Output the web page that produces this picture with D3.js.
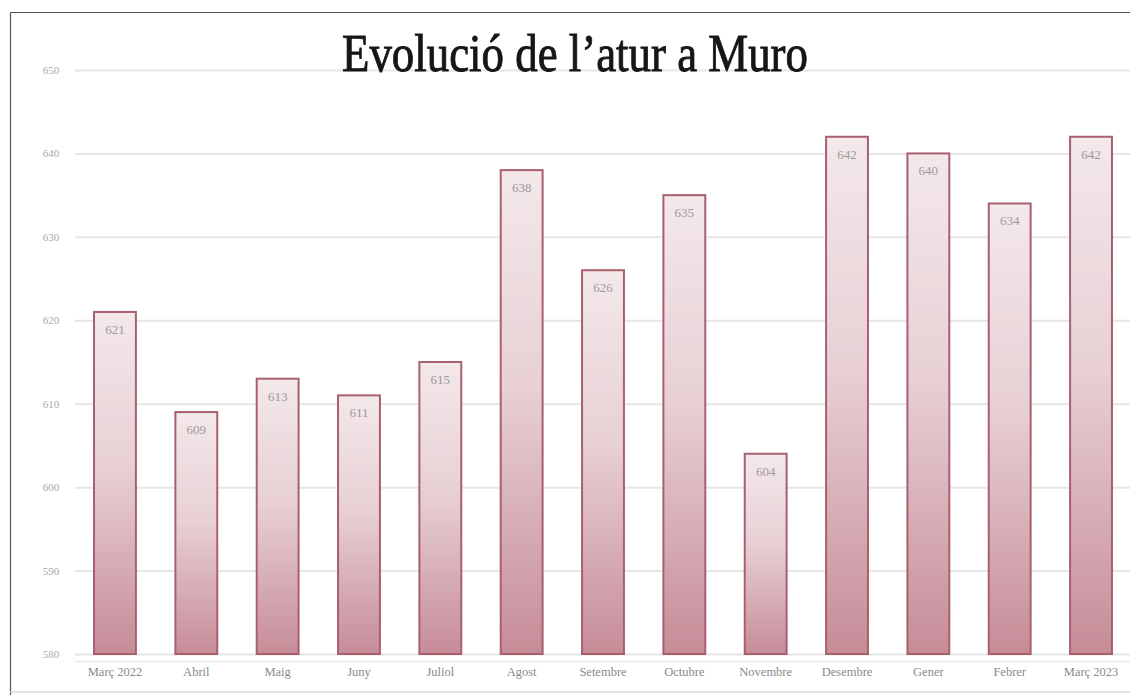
<!DOCTYPE html>
<html><head><meta charset="utf-8">
<script src="https://cdn.jsdelivr.net/npm/d3@7"></script>
<style>body{margin:0;background:#fff}svg{display:block}</style>
</head><body>
<svg id="c" width="1130" height="695"></svg>
<script>
const categories = ["Març 2022","Abril","Maig","Juny","Juliol","Agost","Setembre","Octubre","Novembre","Desembre","Gener","Febrer","Març 2023"];
const values = [621,609,613,611,615,638,626,635,604,642,640,634,642];
const yTicks = [580,590,600,610,620,630,640,650];
const title = "Evolució de l’atur a Muro";

const svg = d3.select("#c");
// frame
svg.append("line").attr("x1",10.5).attr("y1",12.5).attr("x2",1130).attr("y2",12.5).attr("stroke","#555").attr("stroke-width",1.2);
svg.append("line").attr("x1",10.5).attr("y1",12.5).attr("x2",10.5).attr("y2",695).attr("stroke","#555").attr("stroke-width",1.2);
svg.append("line").attr("x1",10.5).attr("y1",692).attr("x2",1130).attr("y2",692).attr("stroke","#e2e2e2").attr("stroke-width",2);

const x = d3.scaleBand().domain(categories).range([74.5,1131.5]).paddingInner(0.485).paddingOuter(0.24);
const y = d3.scaleLinear().domain([580,650]).range([654,70]);

const defs = svg.append("defs");
const g = defs.append("linearGradient").attr("id","bg").attr("x1",0).attr("y1",0).attr("x2",0).attr("y2",1);
g.append("stop").attr("offset","0%").attr("stop-color","#f3e8ea");
g.append("stop").attr("offset","45%").attr("stop-color","#e8d0d5");
g.append("stop").attr("offset","100%").attr("stop-color","#c68c98");

// grid + y axis
const yAxis = d3.axisLeft(y).tickValues(yTicks).tickSize(-1060).tickPadding(20);
const ya = svg.append("g").attr("transform","translate(75,0)").call(yAxis);
ya.select(".domain").remove();
ya.selectAll(".tick line").attr("stroke","#e6e6e6").attr("stroke-width",2).attr("x2",1060);
ya.selectAll(".tick text").attr("fill","#aaa").attr("font-family","Liberation Serif, serif").attr("font-size",11).attr("text-anchor","middle").attr("dx",-4);

// title
svg.append("text").attr("x",575).attr("y",71).attr("text-anchor","middle")
  .attr("font-family","Liberation Serif, serif").attr("font-size",53)
  .attr("textLength",466).attr("lengthAdjust","spacingAndGlyphs")
  .attr("fill","#161616").attr("stroke","#161616").attr("stroke-width",0.9).text(title);

// bars
const data = categories.map((c,i)=>({c,v:values[i]}));
svg.append("g").selectAll("rect").data(data).join("rect")
  .attr("x",d=>x(d.c)).attr("width",x.bandwidth())
  .attr("y",d=>y(d.v)).attr("height",d=>y(580)-y(d.v))
  .attr("fill","url(#bg)").attr("stroke","#a9606e").attr("stroke-width",2);

svg.append("g").selectAll("text").data(data).join("text")
  .attr("x",d=>x(d.c)+x.bandwidth()/2).attr("y",d=>y(d.v)+22)
  .attr("text-anchor","middle").attr("font-family","Liberation Serif, serif").attr("font-size",13)
  .attr("fill","#9a9a9a").text(d=>d.v);

// x axis labels
const xAxis = d3.axisBottom(x).tickSize(0).tickPadding(15);
const xa = svg.append("g").attr("transform","translate(0,661)").call(xAxis);
xa.select(".domain").attr("stroke","#eee").attr("stroke-width",2);
xa.selectAll(".tick text").attr("fill","#8a8a8a").attr("font-family","Liberation Serif, serif").attr("font-size",12.5).attr("dy","0");
</script>
</body></html>
